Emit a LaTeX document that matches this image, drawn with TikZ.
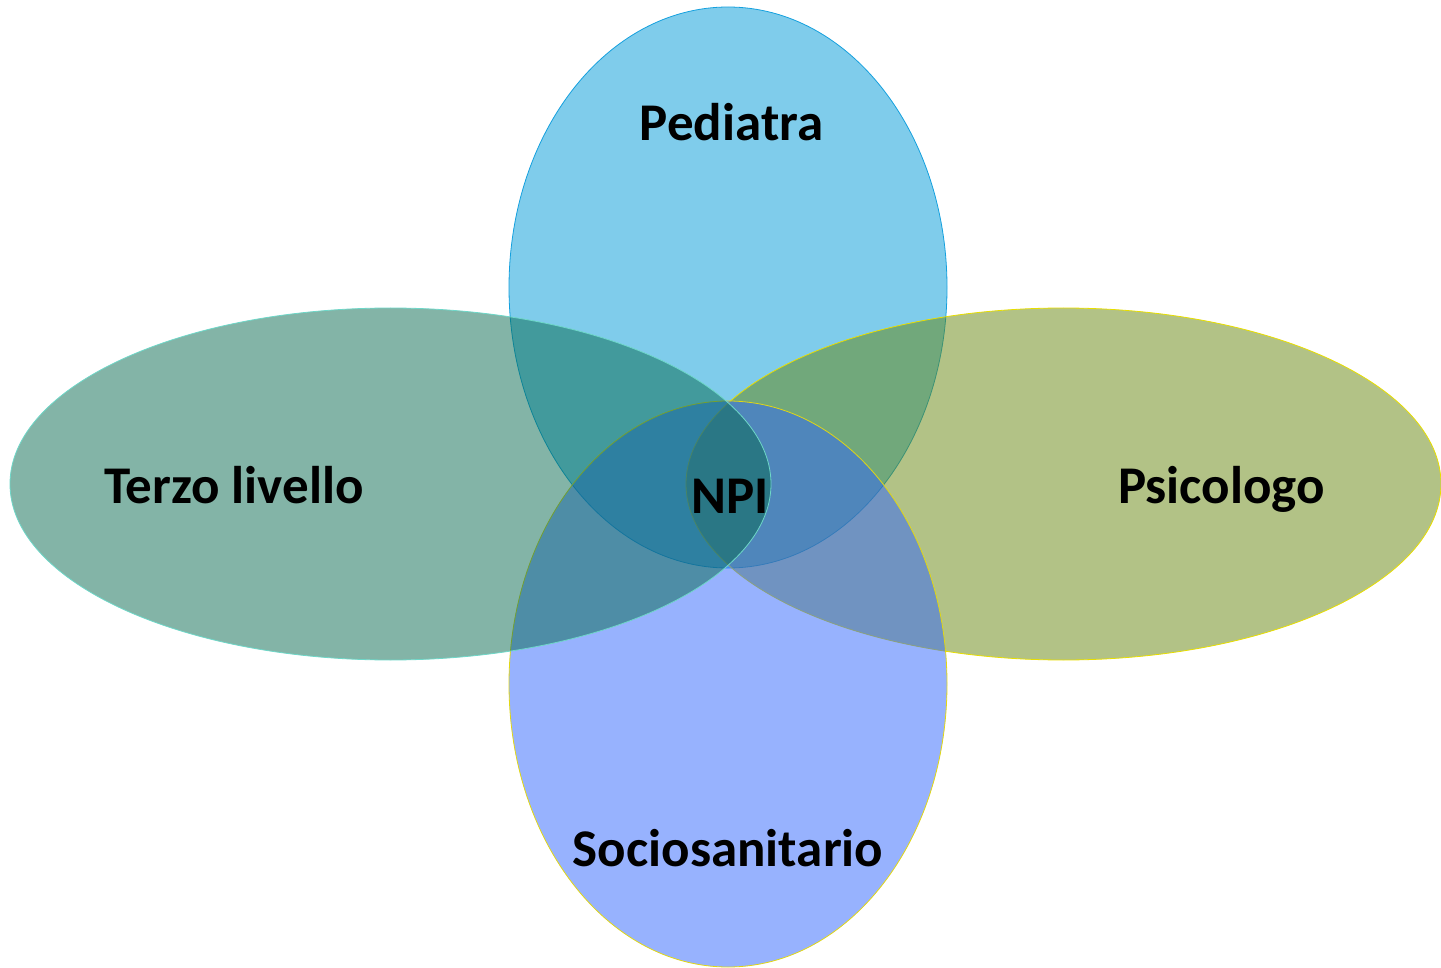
\documentclass[tikz,border=0pt]{standalone}
\usepackage{fontspec}
\setmainfont{Carlito}
\usepackage{tikz}
\usetikzlibrary{shapes.geometric}

\definecolor{pedfill}{RGB}{0,153,215}
\definecolor{pedline}{RGB}{20,160,222}
\definecolor{psifill}{RGB}{101,133,13}
\definecolor{psiline}{RGB}{232,222,0}
\definecolor{socfill}{RGB}{47,101,253}
\definecolor{socline}{RGB}{225,215,20}
\definecolor{terfill}{RGB}{7,105,79}
\definecolor{terline}{RGB}{110,215,200}

\begin{document}
\begin{tikzpicture}[x=1pt, y=-1pt,
venn node/.style={ellipse, inner sep=0pt, outer sep=0pt, line width=0.8pt, fill opacity=0.5},
text node/.style={anchor=base, font=\fontsize{53}{60}\selectfont\bfseries}]

\useasboundingbox (0,0) rectangle (1441,968);

\node[venn node, draw=pedline, fill=pedfill, minimum width=438, minimum height=561] (ped) at (728,287.5) {};
\node[venn node, draw=psiline, fill=psifill, minimum width=755, minimum height=352] (psi) at (1063.5,484) {};
\node[venn node, draw=socline, fill=socfill, minimum width=438, minimum height=566] (soc) at (728,684) {};
\node[venn node, draw=terline, fill=terfill, minimum width=761, minimum height=352] (ter) at (390.5,484) {};

\node[text node] (pedtext) at (731.5,141) {Pediatra};
\node[text node] (psitext) at (1221.5,503) {Psicologo};
\node[text node] (soctext) at (728,866) {Sociosanitario};
\node[text node] (tertext) at (234,503) {Terzo livello};
\node[text node] (npitext) at (730,513) {NPI};
\end{tikzpicture}
\end{document}
